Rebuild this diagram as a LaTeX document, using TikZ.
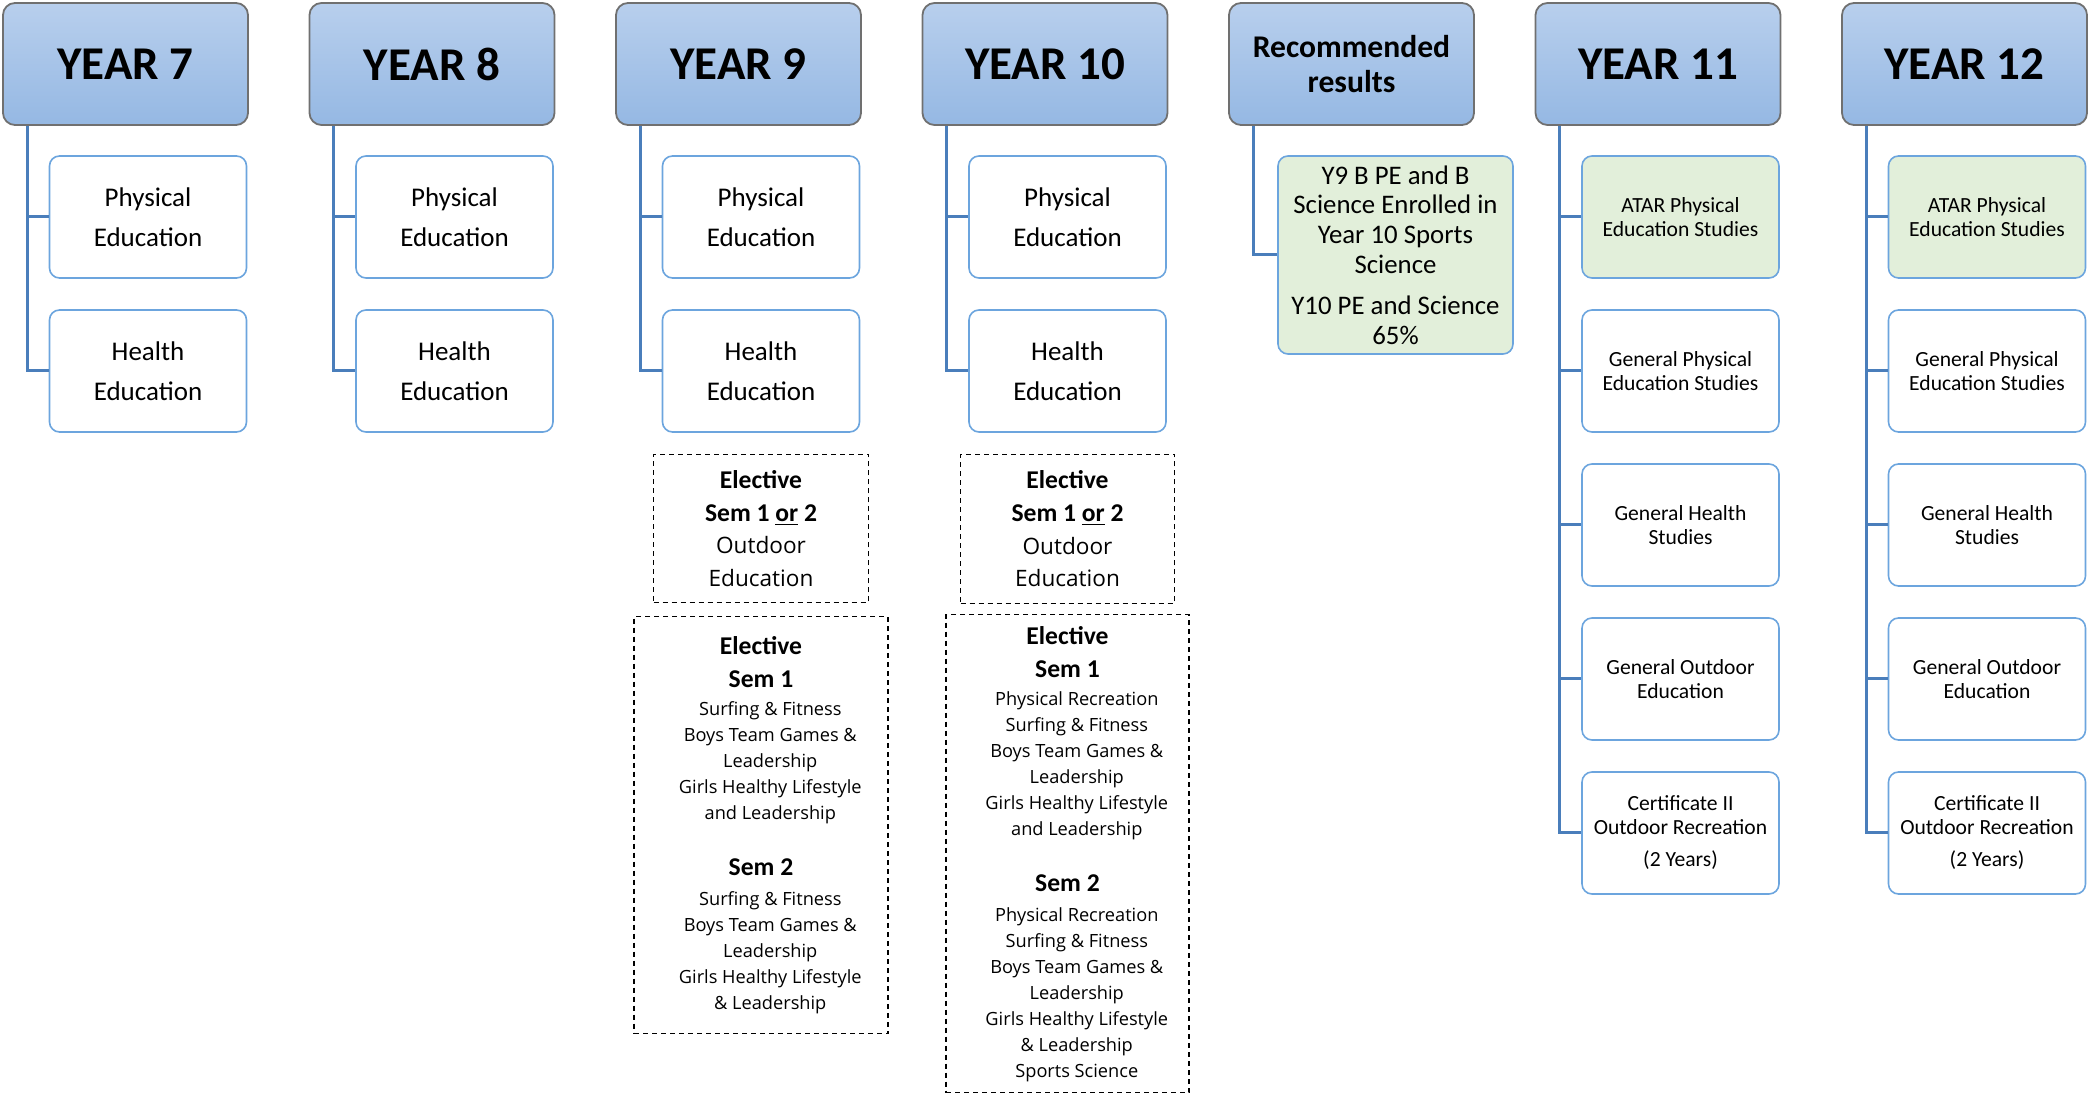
\documentclass[tikz,border=0pt]{standalone}
\usepackage{fontspec}
\setmainfont{Carlito}
\newfontfamily\segoe{Open Sans}
\usetikzlibrary{positioning,trees}

\definecolor{headtop}{RGB}{184,207,237}
\definecolor{headbot}{RGB}{149,184,227}
\definecolor{headline}{RGB}{112,112,112}
\definecolor{boxline}{RGB}{108,165,222}
\definecolor{trunkblue}{RGB}{74,126,187}
\definecolor{okgreen}{RGB}{226,239,218}

\tikzset{
  head/.style={draw=headline,line width=0.9pt,rounded corners=6pt,
    top color=headtop,bottom color=headbot,
    minimum width=122.5pt,minimum height=61pt,align=center,
    font=\fontsize{23.5}{28}\selectfont\bfseries},
  sub/.style={draw=boxline,line width=0.8pt,fill=white,rounded corners=5pt,
    minimum width=98.5pt,minimum height=61pt,align=center,
    font=\fontsize{13.5}{20}\selectfont},
  senior/.style={sub,font=\fontsize{10.8}{12}\selectfont},
  elective/.style={draw,dash pattern=on 2.5pt off 2pt,line width=0.65pt,
    align=center,inner sep=0pt,font=\segoe\fontsize{9.1}{13}\selectfont},
}
\newcommand{\elhead}[1]{{\rmfamily\bfseries\fontsize{12.8}{13}\selectfont #1}}
\newcommand{\elout}[1]{{\fontsize{11.3}{13}\selectfont #1}}
\newcommand{\elitem}[1]{\hspace*{9.3pt}#1}

\begin{document}
\begin{tikzpicture}[x=0.5pt,y=-0.5pt,
    grow via three points={one child at (22.5,153) and two children at (22.5,153) and (22.5,307)},
    edge from parent/.style={draw=trunkblue,line width=1.5pt},
    edge from parent path={([xshift=12.5pt]\tikzparentnode.south west) |- (\tikzchildnode.west)}]
  \useasboundingbox (0,0) rectangle (2089,1095);

  % lower school
  \node[head] (y7) at (125.5,64) {YEAR 7}
    child {node[sub] (y7pe) {Physical\\Education}}
    child {node[sub] (y7he) {Health\\Education}};
  \node[head] (y8) at (432,64) {YEAR 8}
    child {node[sub] (y8pe) {Physical\\Education}}
    child {node[sub] (y8he) {Health\\Education}};
  \node[head] (y9) at (738.5,64) {YEAR 9}
    child {node[sub] (y9pe) {Physical\\Education}}
    child {node[sub] (y9he) {Health\\Education}};
  \node[head] (y10) at (1045,64) {YEAR 10}
    child {node[sub] (y10pe) {Physical\\Education}}
    child {node[sub] (y10he) {Health\\Education}};

  % electives
  \node[elective,minimum width=107.5pt,minimum height=74pt,below=10.5pt of y9he] (y9out)
    {\elhead{Elective}\\[3.3pt]\elhead{Sem 1 \underline{or} 2}\\[3.3pt]\elout{Outdoor}\\[3.3pt]\elout{Education}};
  \node[elective,minimum width=127pt,minimum height=208.5pt,below=6.5pt of y9out] (y9sem)
    {\elhead{Elective}\\[3.5pt]\elhead{Sem 1}\\[1pt]
     \elitem{Surfing \& Fitness}\\\elitem{Boys Team Games \&}\\\elitem{Leadership}\\
     \elitem{Girls Healthy Lifestyle}\\\elitem{and Leadership}\\[15pt]
     \elhead{Sem 2}\\[2pt]
     \elitem{Surfing \& Fitness}\\\elitem{Boys Team Games \&}\\\elitem{Leadership}\\
     \elitem{Girls Healthy Lifestyle}\\\elitem{\& Leadership}};
  \node[elective,minimum width=107pt,minimum height=74.5pt,below=10.5pt of y10he] (y10out)
    {\elhead{Elective}\\[3.3pt]\elhead{Sem 1 \underline{or} 2}\\[3.3pt]\elout{Outdoor}\\[3.3pt]\elout{Education}};
  \node[elective,minimum width=121.5pt,minimum height=239pt,below=5pt of y10out] (y10sem)
    {\elhead{Elective}\\[3.5pt]\elhead{Sem 1}\\[1pt]
     \elitem{Physical Recreation}\\\elitem{Surfing \& Fitness}\\\elitem{Boys Team Games \&}\\
     \elitem{Leadership}\\\elitem{Girls Healthy Lifestyle}\\\elitem{and Leadership}\\[15pt]
     \elhead{Sem 2}\\[2pt]
     \elitem{Physical Recreation}\\\elitem{Surfing \& Fitness}\\\elitem{Boys Team Games \&}\\
     \elitem{Leadership}\\\elitem{Girls Healthy Lifestyle}\\\elitem{\& Leadership}\\
     \elitem{Sports Science}};

  % entry marks
  \node[head,font=\fontsize{15.8}{17.5}\selectfont\bfseries] (rec) at (1351.5,64) {Recommended\\results}
    child[grow via three points={one child at (44,191) and two children at (44,191) and (44,345)}] {
      node[sub,fill=okgreen,minimum width=117.5pt,minimum height=99pt,
        font=\fontsize{13.4}{14.9}\selectfont] (recmark)
        {Y9 B PE and B\\Science Enrolled in\\Year 10 Sports\\Science\\[5.5pt]Y10 PE and Science\\65\%}
    };

  % upper school
  \node[head] (y11) at (1658,64) {YEAR 11}
    child {node[senior,fill=okgreen] (y11atar) {ATAR Physical\\Education Studies}}
    child {node[senior] (y11gpe) {General Physical\\Education Studies}}
    child {node[senior] (y11ghs) {General Health\\Studies}}
    child {node[senior] (y11goe) {General Outdoor\\Education}}
    child {node[senior] (y11cert) {Certificate II\\Outdoor Recreation\\[4pt](2 Years)}};
  \node[head] (y12) at (1964.5,64) {YEAR 12}
    child {node[senior,fill=okgreen] (y12atar) {ATAR Physical\\Education Studies}}
    child {node[senior] (y12gpe) {General Physical\\Education Studies}}
    child {node[senior] (y12ghs) {General Health\\Studies}}
    child {node[senior] (y12goe) {General Outdoor\\Education}}
    child {node[senior] (y12cert) {Certificate II\\Outdoor Recreation\\[4pt](2 Years)}};
\end{tikzpicture}
\end{document}
